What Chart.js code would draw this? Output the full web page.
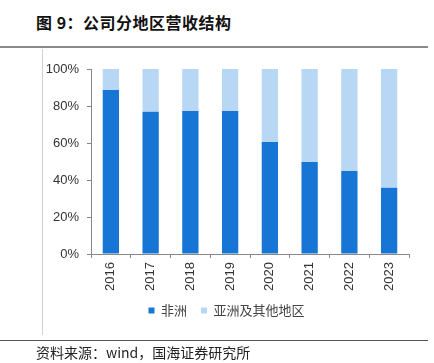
<!DOCTYPE html>
<html>
<head>
<meta charset="utf-8">
<script src="https://cdn.jsdelivr.net/npm/chart.js@4"></script>
<style>
  body { margin: 0; background: #fff; font-family: "Liberation Sans", Arial, sans-serif; }
  #wrap { position: relative; width: 434px; height: 363px; overflow: hidden; }
  #title { position: absolute; left: 36px; top: 12px; font: bold 16px "Noto Sans CJK SC", sans-serif; letter-spacing: 0.5px; color: #111; line-height: 20px; }
  .hline { position: absolute; left: 0; width: 428px; background: #8a8a8a; }
  #vline { position: absolute; left: 42px; top: 49px; width: 1px; height: 286px; background: #d0d0d0; }
  #source { position: absolute; left: 36px; top: 343px; font: 14px "Noto Sans CJK SC", sans-serif; color: #222; line-height: 18px; }
  canvas { position: absolute; left: 0; top: 0; }
</style>
</head>
<body>
<div id="wrap">
  <div id="title">图 9：公司分地区营收结构</div>
  <div class="hline" style="top:46px;height:2px;"></div>
  <div id="vline"></div>
  <canvas id="chart" width="434" height="363"></canvas>
  <div class="hline" style="top:340px;height:1px;background:#555;"></div>
  <div id="source">资料来源：wind，国海证券研究所</div>
</div>
<script>
const years = ['2016','2017','2018','2019','2020','2021','2022','2023'];
const africa = [88.6, 76.9, 77.3, 77.3, 60.5, 49.7, 44.9, 35.8];
const asiaOther = [11.4, 23.1, 22.7, 22.7, 39.5, 50.3, 55.1, 64.2];
const yTicks = [0, 20, 40, 60, 80, 100];

// nudge the legend to where it sits in the original
const legendShift = {
  id: 'legendShift',
  afterLayout(chart) {
    const lg = chart.legend;
    if (!lg) return;
    lg.left += 22; lg.right += 22;
    lg.top -= 4; lg.bottom -= 4;
  }
};

document.addEventListener('DOMContentLoaded', () => {
  const ctx = document.getElementById('chart');
  new Chart(ctx, {
    type: 'bar',
    data: {
      labels: years,
      datasets: [
        { label: '非洲', data: africa, backgroundColor: '#1776D5', categoryPercentage: 1, barPercentage: 0.41 },
        { label: '亚洲及其他地区', data: asiaOther, backgroundColor: '#B8D7F5', categoryPercentage: 1, barPercentage: 0.41 }
      ]
    },
    options: {
      responsive: false,
      animation: false,
      layout: { padding: { left: 0, right: 25, top: 69, bottom: 32 } },
      plugins: {
        tooltip: { enabled: false },
        legend: {
          position: 'bottom',
          labels: {
            boxWidth: 6, boxHeight: 6, padding: 14,
            color: '#444',
            font: { family: '"Noto Sans CJK SC", sans-serif', size: 13 }
          }
        }
      },
      scales: {
        x: {
          stacked: true,
          afterFit: s => { s.height = 40; },
          grid: { display: true, drawOnChartArea: false, offset: true, tickLength: 4, color: '#888' },
          border: { color: '#888' },
          ticks: {
            minRotation: 90, maxRotation: 90, padding: 4,
            color: '#333',
            font: { family: '"Liberation Sans", Arial, sans-serif', size: 13 }
          }
        },
        y: {
          stacked: true,
          min: 0, max: 100,
          afterFit: s => { s.width = 91; },
          afterBuildTicks: s => { s.ticks = yTicks.map(v => ({ value: v })); },
          grid: { display: true, drawOnChartArea: false, tickLength: 4, color: '#888' },
          border: { color: '#888' },
          ticks: {
            padding: 8,
            color: '#333',
            font: { family: '"Liberation Sans", Arial, sans-serif', size: 13 },
            callback: v => v + '%'
          }
        }
      }
    },
    plugins: [legendShift]
  });
});
</script>
</body>
</html>
